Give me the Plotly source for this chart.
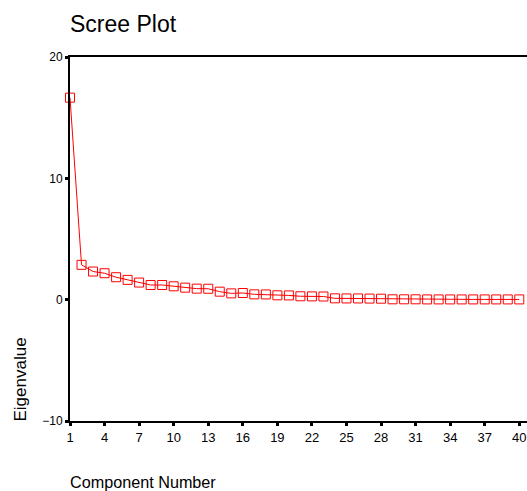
import plotly.graph_objects as go

components = list(range(1, 41))
eigenvalues = [16.65, 2.87, 2.32, 2.18, 1.85, 1.63, 1.41, 1.21, 1.21, 1.10,
               0.99, 0.91, 0.90, 0.66, 0.52, 0.55, 0.44, 0.43, 0.36, 0.35,
               0.28, 0.27, 0.26, 0.11, 0.10, 0.10, 0.09, 0.08, 0.03, 0.03,
               0.03, 0.02, 0.02, 0.02, 0.02, 0.02, 0.02, 0.02, 0.02, 0.02]
x_ticks = [1, 4, 7, 10, 13, 16, 19, 22, 25, 28, 31, 34, 37, 40]
y_ticks = [-10, 0, 10, 20]

FONT = "Liberation Sans, Arial, sans-serif"

fig = go.Figure()
fig.add_trace(go.Scatter(
    x=components, y=eigenvalues, mode="lines+markers",
    line=dict(color="#ff0000", width=1),
    marker=dict(symbol="square-open", size=9, color="#ff0000", line=dict(width=1, color="#ff0000")),
    cliponaxis=False, showlegend=False,
))

fig.update_layout(
    width=527, height=491,
    margin=dict(l=70, r=0, t=57, b=70),
    paper_bgcolor="white", plot_bgcolor="white",
    font=dict(family=FONT, color="black", size=13),
    xaxis=dict(range=[1, 40.67], tickvals=x_ticks, showgrid=False, zeroline=False,
               showline=True, linecolor="black", linewidth=2, mirror=True,
               ticks="outside", ticklen=3, tickwidth=3, tickcolor="black",
               tickfont=dict(size=13, family=FONT)),
    yaxis=dict(range=[-10, 20], tickvals=y_ticks, showgrid=False, zeroline=False,
               showline=True, linecolor="black", linewidth=2,
               ticks="outside", ticklen=3, tickwidth=3, tickcolor="black",
               tickfont=dict(size=12, family=FONT)),
    annotations=[
        dict(text="Scree Plot", xref="paper", yref="paper", x=0, y=1, xshift=-2, yshift=18,
             xanchor="left", yanchor="bottom", showarrow=False,
             font=dict(size=23, family=FONT)),
        dict(text="Component Number", xref="paper", yref="paper", x=0, y=0, xshift=-2, yshift=-50,
             xanchor="left", yanchor="top", showarrow=False,
             font=dict(size=16.2, family=FONT)),
        dict(text="Eigenvalue", xref="paper", yref="paper", x=0, y=0, xshift=-62, yshift=-3,
             xanchor="left", yanchor="bottom", textangle=-90, showarrow=False,
             font=dict(size=17, family=FONT)),
    ],
)

fig.write_html(
    "out.html",
    config={"displayModeBar": False},
    post_script="document.body.style.margin='0';document.body.style.overflow='hidden';",
)
